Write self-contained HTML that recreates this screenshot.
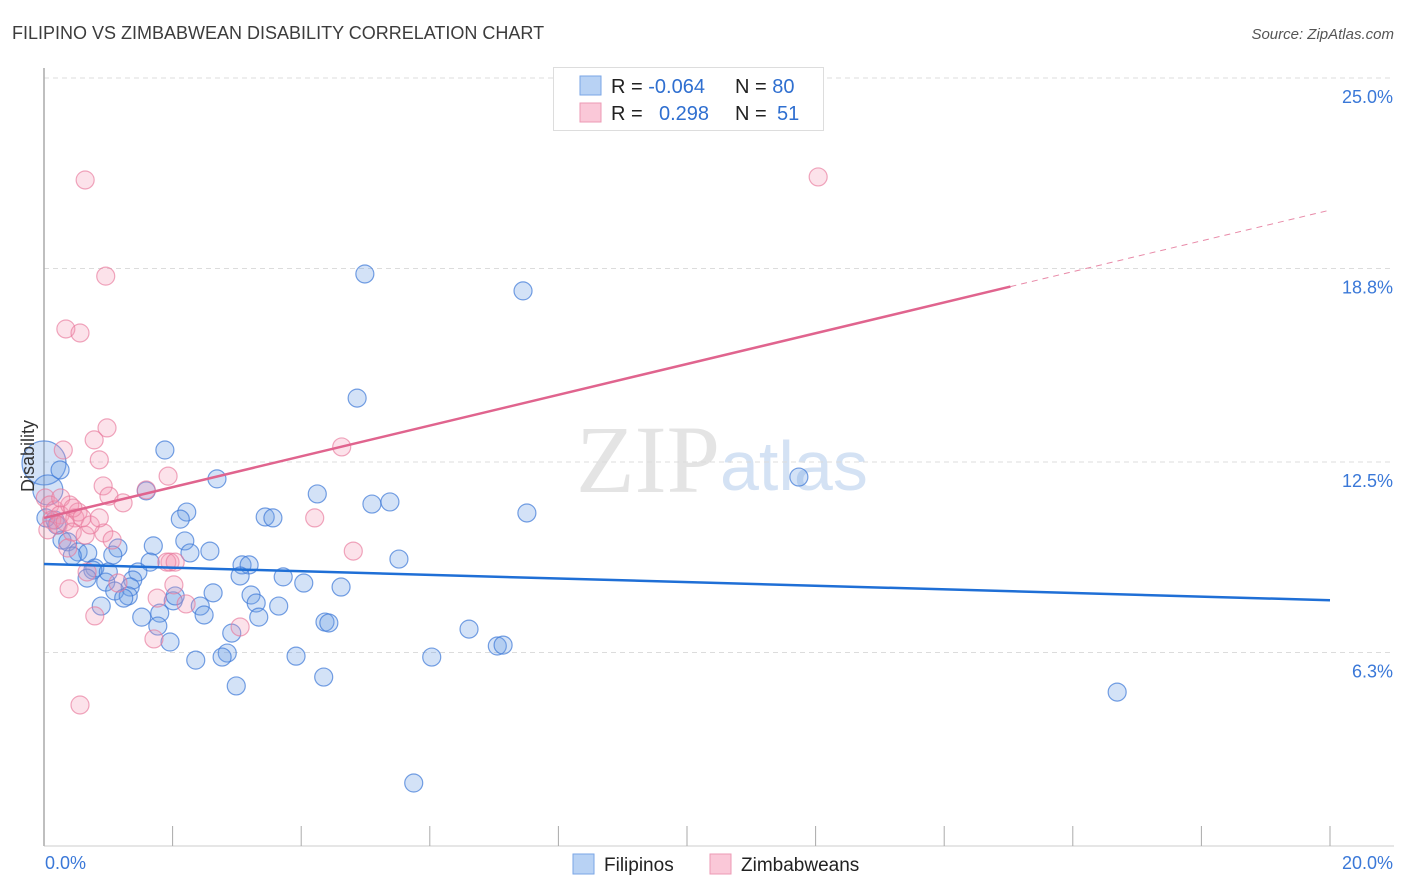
<!DOCTYPE html>
<html><head><meta charset="utf-8"><style>
body{margin:0;background:#fff;font-family:"Liberation Sans",sans-serif;}
svg{display:block}
</style></head><body>
<svg width="1406" height="892" xmlns="http://www.w3.org/2000/svg" id="chart">
<text x="12" y="39" font-size="18" fill="#3c3c3c">FILIPINO VS ZIMBABWEAN DISABILITY CORRELATION CHART</text>
<text x="1394" y="39" font-size="15" font-style="italic" fill="#555" text-anchor="end">Source: ZipAtlas.com</text>
<text x="720" y="492" font-size="96" font-family="Liberation Serif,serif" fill="#e4e4e4" text-anchor="end">ZIP</text>
<text x="720" y="490" font-size="70" fill="#d4e2f4">atlas</text>
<g id="grid"></g>
<g id="axes"></g>
<g id="pts"></g>
<g id="trends"></g>
<text x="34" y="456" font-size="18" fill="#333" text-anchor="middle" transform="rotate(-90 34 456)">Disability</text>
<g>
<rect x="553.5" y="67.5" width="270" height="63" fill="#fff" stroke="#ddd"/>
<rect x="580" y="76" width="21" height="19" fill="#b8d2f4" stroke="#7aa6e6"/>
<rect x="580" y="103" width="21" height="19" fill="#fac8d8" stroke="#ec9ab4"/>
<text x="611" y="93" font-size="20" fill="#222">R = <tspan fill="#2f6fd0">-0.064</tspan></text>
<text x="735" y="93" font-size="20" fill="#222">N = <tspan fill="#2f6fd0">80</tspan></text>
<text x="611" y="120" font-size="20" fill="#222">R = <tspan x="659" fill="#2f6fd0">0.298</tspan></text>
<text x="735" y="120" font-size="20" fill="#222">N = <tspan x="777" fill="#2f6fd0">51</tspan></text>
</g>
<g>
<rect x="573" y="854" width="21" height="20" fill="#b8d2f4" stroke="#7aa6e6"/>
<text x="604" y="871" font-size="19" fill="#222">Filipinos</text>
<rect x="710" y="854" width="21" height="20" fill="#fac8d8" stroke="#ec9ab4"/>
<text x="741" y="871" font-size="19" fill="#222">Zimbabweans</text>
</g>
</svg>
<script>
const yTicks=[25.0,18.8,12.5,6.3];
const yTickLabels=["25.0%","18.8%","12.5%","6.3%"];
const xTickLabels=["0.0%","20.0%"];
const blueX=[4.99,7.45,4.87,1.88,2.69,11.74,1.59,4.25,5.10,5.38,2.22,2.12,3.44,3.56,7.51,0.28,0.37,1.70,2.19,1.15,2.27,2.58,0.53,0.68,1.07,5.52,3.08,3.19,1.65,0.79,1.46,3.05,3.72,4.04,0.76,1.38,0.96,0.67,1.34,1.10,1.31,4.62,2.63,3.22,3.30,1.24,2.01,2.04,2.43,3.65,0.89,1.80,1.52,2.49,3.34,4.37,4.43,6.61,2.92,1.77,1.96,7.05,7.14,3.92,6.03,2.85,2.77,2.36,2.99,4.35,16.69,5.75,0.00,0.06,0.17,0.20,0.03,0.25,0.44,1.00];
const blueY=[18.62,18.07,14.58,12.89,11.95,12.01,11.56,11.46,11.13,11.20,10.87,10.64,10.71,10.68,10.84,9.96,9.90,9.77,9.93,9.70,9.54,9.60,9.57,9.54,9.47,9.34,9.15,9.15,9.24,9.05,8.92,8.79,8.76,8.56,8.98,8.66,8.59,8.72,8.43,8.30,8.14,8.43,8.24,8.17,7.91,8.07,7.98,8.14,7.81,7.81,7.81,7.58,7.45,7.52,7.45,7.29,7.26,7.06,6.93,7.16,6.64,6.51,6.54,6.18,6.15,6.28,6.15,6.05,5.21,5.50,5.01,2.05,12.47,11.59,10.61,10.45,10.68,12.24,9.44,8.92];
const blueR=[9,9,9,9,9,9,9,9,9,9,9,9,9,9,9,9,9,9,9,9,9,9,9,9,9,9,9,9,9,9,9,9,9,9,9,9,9,9,9,9,9,9,9,9,9,9,9,9,9,9,9,9,9,9,9,9,9,9,9,9,9,9,9,9,9,9,9,9,9,9,9,9,22,15,9,9,9,9,9,9];
const pinkX=[0.64,12.04,0.96,0.34,0.56,0.98,0.78,0.30,0.86,4.63,1.93,0.92,1.59,1.01,1.23,4.21,0.02,0.09,0.17,0.25,0.40,0.48,0.12,0.22,0.33,0.06,0.44,0.64,0.93,1.06,0.37,4.81,1.96,1.91,1.15,0.39,2.02,1.76,2.21,3.05,1.71,0.79,0.56,0.67,2.04,0.72,0.53,0.86,0.26,0.45,0.59];
const pinkY=[21.68,21.78,18.55,16.83,16.70,13.61,13.22,12.89,12.57,12.99,12.04,11.72,11.59,11.39,11.17,10.68,11.33,11.10,10.94,10.78,11.10,10.68,10.61,10.45,10.55,10.29,10.22,10.12,10.19,9.96,9.70,9.60,9.24,9.24,8.56,8.37,8.50,8.07,7.88,7.13,6.74,7.49,4.59,8.92,9.24,10.45,10.87,10.68,11.33,11.00,10.68];
const blueTrend=[9.18,8.0];
const pinkTrend=[10.68,20.70];
const pinkSolidEnd=15.03;
const NS="http://www.w3.org/2000/svg";
const X=v=>44+v/20*1286, Y=v=>78+(25-v)*30.72;
function mk(tag,attrs,parent){const e=document.createElementNS(NS,tag);for(const k in attrs)e.setAttribute(k,attrs[k]);parent.appendChild(e);return e;}
const grid=document.getElementById('grid'),axes=document.getElementById('axes'),pts=document.getElementById('pts'),tr=document.getElementById('trends');
yTicks.forEach((t,i)=>{
 const l=mk('line',{x1:44,x2:1394,y1:Y(t),y2:Y(t),stroke:'#dcdcdc','stroke-dasharray':'5,4'},grid);
 
 
 const tx=mk('text',{x:1393,y:Y(t)+25,'font-size':18,fill:'#3a78d8','text-anchor':'end'},grid);
 tx.textContent=yTickLabels[i];
 
 
});
const ax=mk('line',{x1:44,x2:44,y1:68,y2:846,stroke:'#aaa','stroke-width':1.5},axes);


const bx=mk('line',{x1:44,x2:1394,y1:846,y2:846,stroke:'#ccc'},axes);


for(let k=0;k<=10;k++){
 const t=mk('line',{x1:X(k*2),x2:X(k*2),y1:826,y2:846,stroke:'#aaa'},axes);
 
 
}
const xl0=mk('text',{x:45,y:869,'font-size':18,fill:'#3a78d8'},axes);
xl0.textContent=xTickLabels[0];


const xl1=mk('text',{x:1393,y:869,'font-size':18,fill:'#3a78d8','text-anchor':'end'},axes);
xl1.textContent=xTickLabels[1];


blueX.forEach((v,i)=>{
 const c=mk('circle',{cx:X(v),cy:Y(blueY[i]),r:blueR[i],fill:'rgba(110,160,230,0.3)',stroke:'rgba(60,120,215,0.7)','stroke-width':1.2},pts);
 
 
});
pinkX.forEach((v,i)=>{
 const c=mk('circle',{cx:X(v),cy:Y(pinkY[i]),r:9,fill:'rgba(245,150,180,0.28)',stroke:'rgba(232,120,155,0.65)','stroke-width':1.2},pts);
 
 
});
const bl=mk('line',{x1:X(0),y1:Y(blueTrend[0]),x2:X(20),y2:Y(blueTrend[1]),stroke:'#1f6fd6','stroke-width':2.5},tr);


const pAt=x=>pinkTrend[0]+(pinkTrend[1]-pinkTrend[0])*x/20;
const pl=mk('line',{x1:X(0),y1:Y(pAt(0)),x2:X(pinkSolidEnd),y2:Y(pAt(pinkSolidEnd)),stroke:'#e0648e','stroke-width':2.5},tr);


const pd=mk('line',{x1:X(pinkSolidEnd),y1:Y(pAt(pinkSolidEnd)),x2:X(20),y2:Y(pAt(20)),stroke:'#e88aa8','stroke-width':1,'stroke-dasharray':'6,5'},tr);


</script>
</body></html>
